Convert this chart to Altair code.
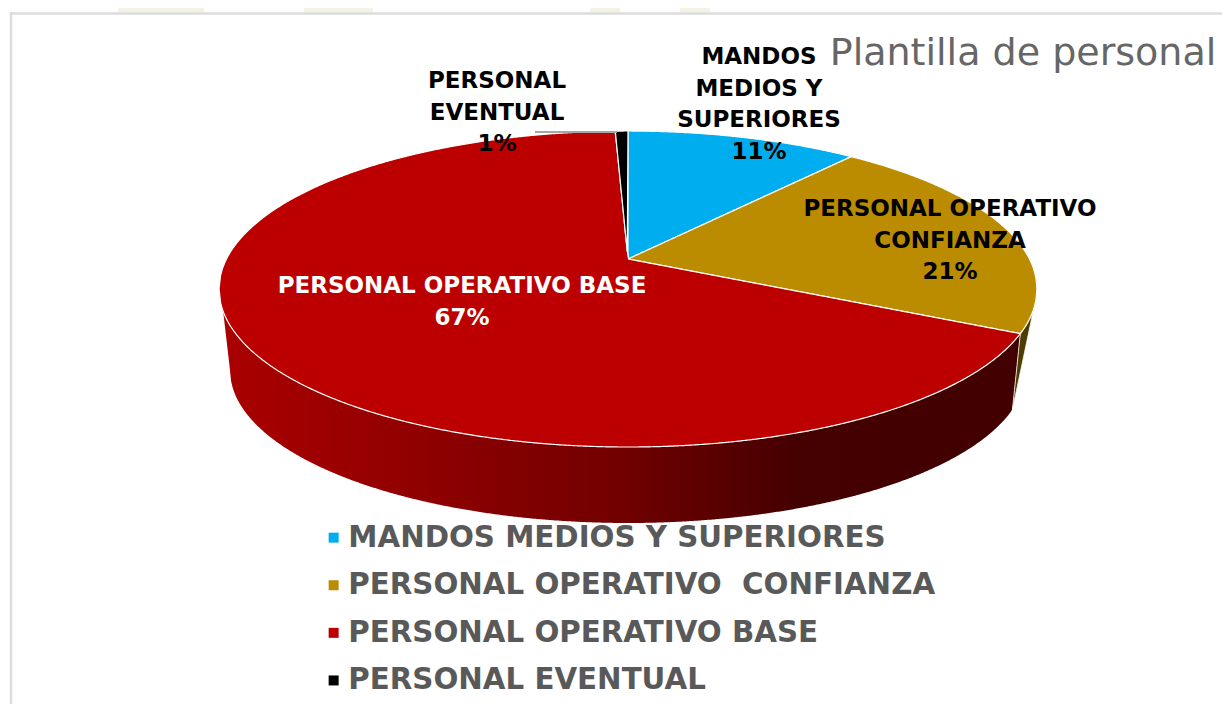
import numpy as np
import pandas as pd
import altair as alt

# ---- chart values ----
categories = ["MANDOS MEDIOS Y SUPERIORES", "PERSONAL OPERATIVO\u00a0 CONFIANZA",
              "PERSONAL OPERATIVO BASE", "PERSONAL EVENTUAL"]
shares = [11.0, 21.4, 67.0, 0.6]
colors = ["#00AEEF", "#BC8C00", "#BC0000", "#000000"]
title_text = "Plantilla de personal"

label_texts = ["MANDOS\nMEDIOS Y\nSUPERIORES\n11%", "PERSONAL OPERATIVO\nCONFIANZA\n21%",
               "PERSONAL OPERATIVO BASE\n67%", "PERSONAL\nEVENTUAL\n1%"]
label_colors = ["#000000", "#000000", "#FFFFFF", "#000000"]

# ---- placement of the drawing (px in the picture) ----
label_x = [759, 950, 462, 497]
label_y = [57, 209, 286, 81]
CX, APEX_Y = 628.0, 259.0
K, G, F = 0.19, 152.3, 401.5      # perspective of the top disc
LOW_Y, LOW_RX, LOW_RY = 370.0, 398.0, 153.0   # lower rim of the pie


def top_rim(deg):
    t = np.radians(deg)
    w = 1 + K * np.cos(t)
    return CX + F * np.sin(t) / w, APEX_Y - G * np.cos(t) / w


def low_rim(deg):
    t = np.radians(deg)
    return CX + LOW_RX * np.sin(t), LOW_Y - LOW_RY * np.cos(t)


def to_area(px, py, step=1.5):
    px, py = np.asarray(px, float), np.asarray(py, float)
    xs = np.unique(np.r_[np.arange(px.min(), px.max(), step), px.max()])
    x1, y1 = px, py
    x2, y2 = np.roll(px, -1), np.roll(py, -1)
    rows = []
    for x in xs:
        hits = []
        for a, b, c, d in zip(x1, y1, x2, y2):
            if min(a, c) <= x <= max(a, c):
                if a == c:
                    hits += [b, d]
                else:
                    hits.append(b + (d - b) * (x - a) / (c - a))
        if hits:
            rows.append((x, min(hits), max(hits)))
    return pd.DataFrame(rows, columns=["x", "y", "y2"])


# top wedges come straight from the shares
frames = []
start = 0.0
edges = []
for name, share in zip(categories, shares):
    end = start + share * 3.6
    deg = np.linspace(start, end, max(int(share * 6), 8))
    rx, ry = top_rim(deg)
    d = to_area(np.r_[CX, rx], np.r_[APEX_Y, ry])
    d["cat"] = name
    frames.append(d)
    edges.append(end)
    start = end
wedges = pd.concat(frames)

# side walls
cut = edges[1]
a1 = np.linspace(cut, 262, 160)
a2 = np.linspace(270, 105, 160)
x1, y1 = top_rim(a1)
x2, y2 = low_rim(a2)
wall_red = to_area(np.r_[x1, x2], np.r_[y1, y2])

a3 = np.linspace(cut, 108, 10)
x3, y3 = top_rim(a3)
xe, ye = low_rim(105)
wall_gold = to_area(np.r_[x3, xe], np.r_[y3, ye], step=1.0)

X = alt.Scale(domain=[8, 1222], nice=False, zero=False)
Y = alt.Scale(domain=[704, 8], nice=False, zero=False)
ex = alt.X("x:Q", scale=X, axis=None)
ey = alt.Y("y:Q", scale=Y, axis=None)

# page furniture
stripes = pd.DataFrame({"x": [118, 304, 590, 680], "x2": [204, 373, 620, 710],
                        "y": [8] * 4, "y2": [12] * 4})
l_stripes = alt.Chart(stripes).mark_rect(color="#F5F1E6").encode(
    x=ex, x2="x2:Q", y=ey, y2="y2:Q")
border_top = alt.Chart(pd.DataFrame({"x": [10], "x2": [1222], "y": [13.5]})).mark_rule(
    color="#DCDCDC", strokeWidth=2.5).encode(x=ex, x2="x2:Q", y=ey)
border_left = alt.Chart(pd.DataFrame({"x": [11], "y": [12], "y2": [704]})).mark_rule(
    color="#DCDCDC", strokeWidth=2.5).encode(x=ex, y=ey, y2="y2:Q")

stops = [alt.GradientStop(offset=0, color="#AA0000"),
         alt.GradientStop(offset=0.25, color="#900000"),
         alt.GradientStop(offset=0.5, color="#720000"),
         alt.GradientStop(offset=0.72, color="#450000"),
         alt.GradientStop(offset=1, color="#420000")]
l_wall = alt.Chart(wall_red).mark_area(
    color=alt.Gradient(gradient="linear", x1=0, y1=0, x2=1, y2=0, stops=stops)
).encode(x=ex, y=ey, y2="y2:Q")
l_gold = alt.Chart(wall_gold).mark_area(
    color="#4E3D00", stroke="#FFFFFF", strokeWidth=0.8
).encode(x=ex, y=ey, y2="y2:Q")

l_top = alt.Chart(wedges).mark_area(stroke="#FFFFFF", strokeWidth=1.2).encode(
    x=ex, y=ey, y2="y2:Q",
    color=alt.Color("cat:N",
                    scale=alt.Scale(domain=categories, range=colors),
                    sort=categories,
                    legend=alt.Legend(orient="none", legendX=311, legendY=515, title=None,
                                      symbolType="square", symbolSize=100,
                                      symbolStrokeWidth=0,
                                      labelFont="DejaVu Sans", labelFontWeight="bold",
                                      labelFontSize=29.3, labelColor="#595959",
                                      labelLimit=900, labelOffset=0, rowPadding=17.6)),
)

leader = alt.Chart(pd.DataFrame({"x": [535], "x2": [617], "y": [132]})).mark_rule(
    color="#A6A6A6", strokeWidth=2).encode(x=ex, x2="x2:Q", y=ey)

labels = pd.DataFrame({"x": label_x, "y": label_y, "t": label_texts, "c": label_colors})
l_labels = alt.Chart(labels).mark_text(
    font="DejaVu Sans", fontWeight="bold", fontSize=23, lineBreak="\n", lineHeight=31.5,
    align="center", baseline="middle"
).encode(x=ex, y=ey, text="t:N", color=alt.Color("c:N", scale=None, legend=None))

l_title = alt.Chart(pd.DataFrame({"x": [1023], "y": [54], "t": [title_text]})).mark_text(
    font="DejaVu Sans", fontSize=38, color="#666666", align="center", baseline="middle"
).encode(x=ex, y=ey, text="t:N")

chart = alt.layer(l_stripes, border_top, border_left, l_wall, l_gold, l_top, leader,
                  l_labels, l_title).resolve_scale(color="independent").properties(
    width=1214, height=696, padding=0, background="#FFFFFF",
    autosize=alt.AutoSizeParams(type="none")
).configure_view(stroke=None)

chart.save("out.html", embed_options={"renderer": "svg", "actions": False})
